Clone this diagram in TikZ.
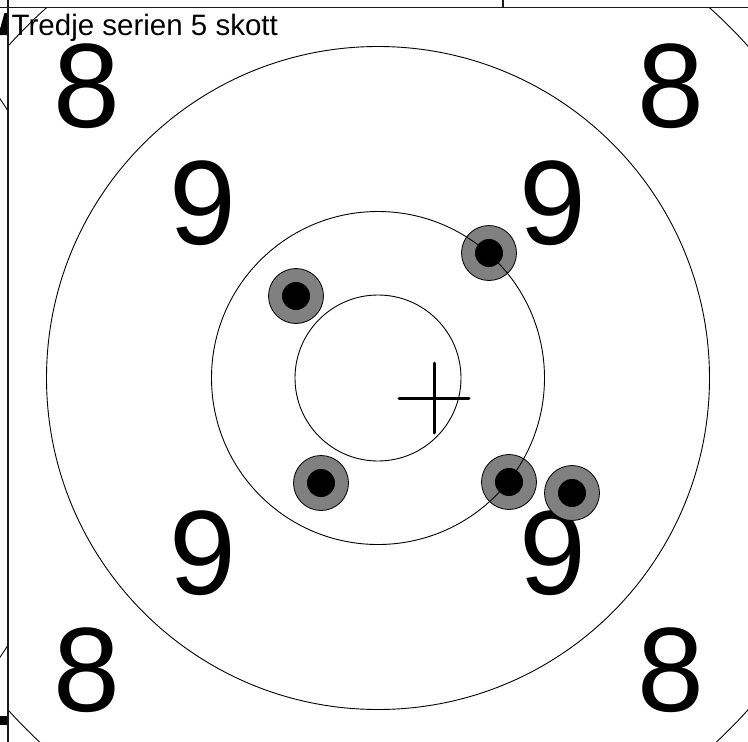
\documentclass[tikz,border=0pt]{standalone}
\usepackage{fontspec}
\setmainfont{Liberation Sans}
\definecolor{holegray}{HTML}{808080}
\definecolor{framegray}{HTML}{1A1A1A}
\begin{document}
\begin{tikzpicture}[x=1pt,y=-1pt,
  ring/.style={draw=black, line width=0.9pt},
  holering/.style={circle, draw=black, line width=0.8pt, fill=holegray, minimum size=55pt, inner sep=0pt},
  holecore/.style={circle, fill=black, minimum size=28pt, inner sep=0pt},
  digit/.style={font=\fontsize{120}{120}\selectfont, inner sep=0pt, text=black},
  framel/.style={draw=framegray, line width=1.8pt},
  aimcross/.style={line width=3pt, line cap=round}]
\useasboundingbox (0,0) rectangle (748,742);
\fill[white] (0,0) rectangle (748,742);
\coordinate (c) at (378,378);
% ring numbers
\node[digit] (n8a) at (86.5,86.5) {8};
\node[digit] (n8b) at (671,86.5) {8};
\node[digit] (n8c) at (86.5,670) {8};
\node[digit] (n8d) at (671,670) {8};
\node[digit] (n9a) at (203,203.5) {9};
\node[digit] (n9b) at (553,203.5) {9};
\node[digit] (n9c) at (203,553) {9};
\node[digit] (n9d) at (553,553) {9};
% shots
\foreach \n/\p in {s1/{(509,482)}, s2/{(572,493)}, s3/{(489,253)}, s4/{(296,296)}, s5/{(321,483)}} {
  \node[holering] (\n) at \p {};
  \node[holecore] (\n k) at (\n) {};
}
% rings
\draw[ring] (c) circle (83pt);
\draw[ring] (c) circle (166.5pt);
\draw[ring] (c) circle (331.5pt);
\begin{scope}
  \clip (8,8) rectangle (748,742);
  \draw[ring] (c) circle (497pt);
\end{scope}
% neighbouring panel arc
\begin{scope}
  \clip (0,0) rectangle (7.5,742);
  \draw[ring] (-410,378) circle (496pt);
\end{scope}
% mean point of impact
\coordinate (m) at (434,398);
\draw[aimcross] ([xshift=-35pt]m) -- ([xshift=35pt]m);
\draw[aimcross] ([yshift=35pt]m) -- ([yshift=-35pt]m);
% title
\node[anchor=base west, inner sep=0pt, font=\fontsize{29.5}{30}\selectfont] (title) at (11.5,35) {Tredje serien 5 skott};
% frame
\coordinate (tl) at (0,7.5);
\coordinate (tr) at (748,7.5);
\coordinate (vl) at (8.3,0);
\coordinate (vb) at (8.3,742);
\coordinate (tk) at (503,0);
\coordinate (tkb) at (503,7.5);
\draw[framel] (tl) -- (tr);
\draw[framel] (vl) -- (vb);
\draw[framel] (tk) -- (tkb);
\fill[black] (0,35) -- (7,35) -- (7,13) -- (4.5,13) -- (0,29) -- cycle;
\fill[black] (0,716) rectangle (7,725);
\end{tikzpicture}
\end{document}
